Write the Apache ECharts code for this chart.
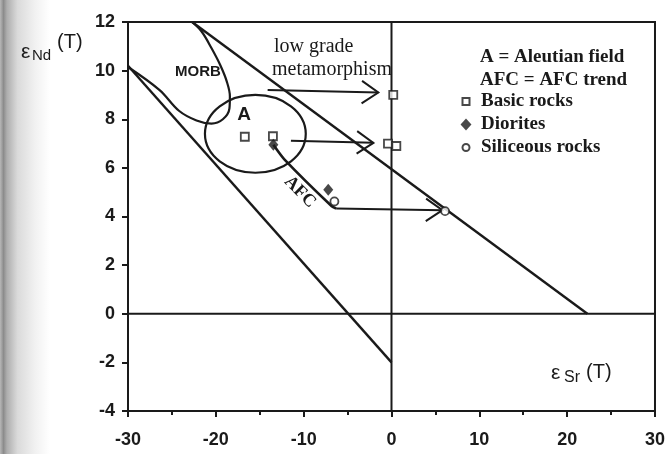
<!DOCTYPE html>
<html>
<head>
<meta charset="utf-8">
<script src="https://cdn.jsdelivr.net/npm/echarts@6/dist/echarts.min.js"></script>
<style>html,body{margin:0;padding:0;background:#fff;}#c{width:668px;height:454px;}</style>
</head>
<body>
<div id="c"></div>
<script>
// ---- data ----
const xTickValues = [-30, -20, -10, 0, 10, 20, 30];
const yTickValues = [-4, -2, 0, 2, 4, 6, 8, 10, 12];

const lowerLineX = [-30, 0];
const lowerLineY = [10.2, -2];
const upperLineX = [-22.7, 22.3];
const upperLineY = [12, 0];
const zeroHX = [-30, 30];
const zeroHY = [0, 0];
const zeroVX = [0, 0];
const zeroVY = [-4, 12];

const morbX = [-30, -26.4, -24.2, -22.2, -20.5, -19.2, -18.45, -18.4, -18.75, -19.5, -20.5, -21.6, -22.7];
const morbY = [10.15, 9.2, 8.35, 7.95, 7.82, 8.0, 8.45, 8.95, 9.55, 10.23, 10.93, 11.6, 12];

const aleutianCenter = [-15.5, 7.4];
const aleutianRadius = [5.74, 1.6];

const afcX = [-13.45, -12.2, -6.8, -6.3];
const afcY = [6.95, 6.35, 4.42, 4.33];

const arrowX1 = [-14.1, -11.45, -6.3];
const arrowY1 = [9.2, 7.12, 4.33];
const arrowX2 = [-1.5, -2.06, 5.8];
const arrowY2 = [9.1, 7.03, 4.26];

const basicX = [-16.7, -13.5, 0.2, -0.4, 0.55];
const basicY = [7.28, 7.3, 9.0, 7.0, 6.9];
const dioriteX = [-13.45, -7.2];
const dioriteY = [6.95, 5.1];
const siliceousX = [-6.5, 6.1];
const siliceousY = [4.62, 4.22];

// ---- build ----
const zip = (xs, ys) => xs.map((x, i) => [x, ys[i]]);
const INK = '#1a1a1a';
const lineStyle = { color: INK, width: 2.4 };

function arrowItem(params, api) {
  const p1 = api.coord([api.value(0), api.value(1)]);
  const p2 = api.coord([api.value(2), api.value(3)]);
  const ang = Math.atan2(p2[1] - p1[1], p2[0] - p1[0]);
  const L = 20, a = 0.6;
  const h1 = [p2[0] - L * Math.cos(ang - a), p2[1] - L * Math.sin(ang - a)];
  const h2 = [p2[0] - L * Math.cos(ang + a), p2[1] - L * Math.sin(ang + a)];
  return {
    type: 'group',
    children: [
      { type: 'line', shape: { x1: p1[0], y1: p1[1], x2: p2[0], y2: p2[1] }, style: { stroke: INK, lineWidth: 2 } },
      { type: 'polyline', shape: { points: [h1, p2, h2] }, style: { stroke: INK, lineWidth: 2, fill: null } }
    ]
  };
}

function ellipseItem(params, api) {
  const c = api.coord([api.value(0), api.value(1)]);
  const s = api.size([api.value(2), api.value(3)]);
  return { type: 'ellipse', shape: { cx: c[0], cy: c[1], rx: s[0], ry: s[1] }, style: { fill: null, stroke: INK, lineWidth: 2.2 } };
}

const chart = echarts.init(document.getElementById('c'), null, { renderer: 'canvas' });

const serif = '"Liberation Serif", "DejaVu Serif", serif';
const sans = '"Liberation Sans", Arial, sans-serif';

chart.setOption({
  animation: false,
  backgroundColor: '#ffffff',
  grid: { left: 128, top: 22, right: 7, bottom: 43, show: true, borderColor: INK, borderWidth: 2, backgroundColor: 'transparent' },
  xAxis: {
    type: 'value', min: -30, max: 30, interval: 10,
    axisLine: { show: true, onZero: false, lineStyle: { color: INK, width: 2 } },
    axisTick: { show: true, inside: false, length: 6, lineStyle: { color: INK, width: 2 } },
    minorTick: { show: true, splitNumber: 2, length: 4, lineStyle: { color: INK, width: 2 } },
    splitLine: { show: false },
    axisLabel: { color: INK, fontFamily: sans, fontWeight: 'bold', fontSize: 18, margin: 20,
      formatter: v => xTickValues.includes(v) ? String(v) : '' }
  },
  yAxis: {
    type: 'value', min: -4, max: 12, interval: 2,
    axisLine: { show: true, onZero: false, lineStyle: { color: INK, width: 2 } },
    axisTick: { show: true, inside: false, length: 6, lineStyle: { color: INK, width: 2 } },
    splitLine: { show: false },
    axisLabel: { color: INK, fontFamily: sans, fontWeight: 'bold', fontSize: 18, margin: 13,
      formatter: v => yTickValues.includes(v) ? String(v) : '' }
  },
  legend: {
    show: true, orient: 'vertical', left: 459, top: 92, padding: 0,
    itemWidth: 12, itemHeight: 12, itemGap: 4,
    data: [
      { name: 'Basic rocks', icon: 'path://M0,0L0,0M12,12L12,12M2.5,2.5L9.5,2.5L9.5,9.5L2.5,9.5Z' },
      { name: 'Diorites', icon: 'path://M6,0.5L11,6L6,11.5L1,6Z' },
      { name: 'Siliceous rocks', icon: 'path://M0,0L0,0M12,12L12,12M2.5,6A3.5,3.5,0,1,1,9.5,6A3.5,3.5,0,1,1,2.5,6Z' }
    ],
    textStyle: { color: INK, fontFamily: serif, fontWeight: 'bold', fontSize: 19, lineHeight: 19, padding: [0, 0, 0, 4] }
  },
  series: [
    { type: 'line', data: zip(zeroHX, zeroHY), symbol: 'none', lineStyle: { color: INK, width: 2 }, silent: true },
    { type: 'line', data: zip(zeroVX, zeroVY), symbol: 'none', lineStyle: { color: INK, width: 2 }, silent: true },
    { type: 'line', data: zip(lowerLineX, lowerLineY), symbol: 'none', lineStyle: lineStyle, silent: true },
    { type: 'line', data: zip(upperLineX, upperLineY), symbol: 'none', lineStyle: lineStyle, silent: true },
    { type: 'line', data: zip(morbX, morbY), symbol: 'none', smooth: 0.35, lineStyle: { color: INK, width: 2.2 }, silent: true },
    { type: 'custom', renderItem: ellipseItem, data: [[aleutianCenter[0], aleutianCenter[1], aleutianRadius[0], aleutianRadius[1]]], encode: { x: 0, y: 1 }, silent: true },
    { type: 'line', data: zip(afcX, afcY), symbol: 'none', smooth: 0.2, lineStyle: { color: INK, width: 2.6 }, silent: true },
    { type: 'custom', renderItem: arrowItem, data: arrowX1.map((x, i) => [x, arrowY1[i], arrowX2[i], arrowY2[i]]), encode: { x: [0, 2], y: [1, 3] }, silent: true },
    { name: 'Basic rocks', type: 'scatter', data: zip(basicX, basicY), symbol: 'rect', symbolSize: 8,
      itemStyle: { color: '#fff', borderColor: INK, borderWidth: 1.8 }, z: 5 },
    { name: 'Diorites', type: 'scatter', data: zip(dioriteX, dioriteY), symbol: 'diamond', symbolSize: [10, 12],
      itemStyle: { color: INK, borderColor: INK, borderWidth: 0 }, z: 5 },
    { name: 'Siliceous rocks', type: 'scatter', data: zip(siliceousX, siliceousY), symbol: 'circle', symbolSize: 8,
      itemStyle: { color: '#fff', borderColor: INK, borderWidth: 1.8 }, z: 5 }
  ],
  graphic: [
    { type: 'rect', left: 0, top: 0, z: -10, shape: { width: 50, height: 454 },
      style: { fill: new echarts.graphic.LinearGradient(0, 0, 1, 0, [
        { offset: 0, color: '#b8b8b8' }, { offset: 0.07, color: '#8c8c8c' }, { offset: 0.14, color: '#aeaeae' },
        { offset: 0.35, color: '#dadada' }, { offset: 0.7, color: '#f1f1f1' }, { offset: 1, color: '#ffffff' }]) } },
    { type: 'text', x: 21, y: 52, style: { text: 'ε', font: '21px ' + sans, fill: INK, textVerticalAlign: 'middle' } },
    { type: 'text', x: 32, y: 56, style: { text: 'Nd', font: '15px ' + sans, fill: INK, textVerticalAlign: 'middle' } },
    { type: 'text', x: 57, y: 42, style: { text: '(T)', font: '20px ' + sans, fill: INK, textVerticalAlign: 'middle' } },
    { type: 'text', x: 551, y: 373, style: { text: 'ε', font: '21px ' + sans, fill: INK, textVerticalAlign: 'middle' } },
    { type: 'text', x: 564, y: 378, style: { text: 'Sr', font: '16px ' + sans, fill: INK, textVerticalAlign: 'middle' } },
    { type: 'text', x: 586, y: 372, style: { text: '(T)', font: '20px ' + sans, fill: INK, textVerticalAlign: 'middle' } },
    { type: 'text', x: 198, y: 72, style: { text: 'MORB', font: 'bold 15px ' + sans, fill: INK, textAlign: 'center', textVerticalAlign: 'middle' } },
    { type: 'text', x: 244, y: 115, style: { text: 'A', font: 'bold 19px ' + sans, fill: INK, textAlign: 'center', textVerticalAlign: 'middle' } },
    { type: 'text', x: 300, y: 192, rotation: -Math.PI / 4, style: { text: 'AFC', font: 'bold 18px ' + serif, fill: INK, textAlign: 'center', textVerticalAlign: 'middle' } },
    { type: 'text', x: 274, y: 47, style: { text: 'low grade', font: '20px ' + serif, fill: INK, textVerticalAlign: 'middle' } },
    { type: 'text', x: 272, y: 70, style: { text: 'metamorphism', font: '20px ' + serif, fill: INK, textVerticalAlign: 'middle' } },
    { type: 'text', x: 480, y: 57, style: { text: 'A = Aleutian field', font: 'bold 19px ' + serif, fill: INK, textVerticalAlign: 'middle' } },
    { type: 'text', x: 480, y: 80, style: { text: 'AFC = AFC trend', font: 'bold 19px ' + serif, fill: INK, textVerticalAlign: 'middle' } }
  ]
});
</script>
</body>
</html>
